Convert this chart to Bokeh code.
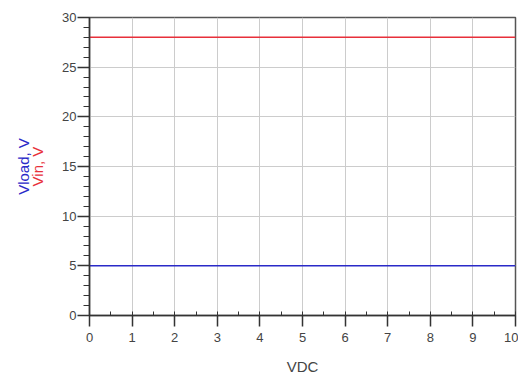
from bokeh.plotting import figure
from bokeh.models import FixedTicker, Range1d, LinearAxis
from bokeh.embed import file_html
from bokeh.resources import INLINE

vdc = [0, 1, 2, 3, 4, 5, 6, 7, 8, 9, 10]
vin = [28, 28, 28, 28, 28, 28, 28, 28, 28, 28, 28]
vload = [5, 5, 5, 5, 5, 5, 5, 5, 5, 5, 5]
x_ticks = [0, 1, 2, 3, 4, 5, 6, 7, 8, 9, 10]
y_ticks = [0, 5, 10, 15, 20, 25, 30]

p = figure(width=518, height=379, output_backend="svg", toolbar_location=None,
           x_range=Range1d(0, 10), y_range=Range1d(0, 30),
           min_border_left=89, min_border_right=3, min_border_top=17, min_border_bottom=64)
p.background_fill_color = "white"
p.border_fill_color = "white"
p.outline_line_color = "#555555"
p.outline_line_width = 1.5

p.line(vdc, vin, line_color="#e8303a", line_width=1.5)
p.line(vdc, vload, line_color="#2a2ac8", line_width=1.5)

font = "Liberation Sans"
xa = p.xaxis[0]
xa.ticker = FixedTicker(ticks=x_ticks, minor_ticks=[i * 0.5 for i in range(21)])
xa.major_tick_out = 11
xa.major_tick_in = 0
xa.minor_tick_in = 4
xa.minor_tick_out = 0
xa.axis_line_color = "#333333"
xa.axis_line_width = 1.5
xa.major_tick_line_color = "#333333"
xa.minor_tick_line_color = "#333333"
xa.major_tick_line_width = 1.5
xa.major_label_text_font = font
xa.major_label_text_font_size = "13px"
xa.major_label_text_color = "#444444"
xa.major_label_standoff = 6
xa.axis_label = "VDC"
xa.axis_label_text_font = font
xa.axis_label_text_font_style = "normal"
xa.axis_label_text_font_size = "15px"
xa.axis_label_text_color = "#444444"
xa.axis_label_standoff = 13

ya = p.yaxis[0]
ya.ticker = FixedTicker(ticks=y_ticks, minor_ticks=list(range(31)))
ya.major_tick_out = 12
ya.major_tick_in = 0
ya.minor_tick_out = 6
ya.minor_tick_in = 0
ya.axis_line_color = "#333333"
ya.axis_line_width = 1.5
ya.major_tick_line_color = "#333333"
ya.minor_tick_line_color = "#333333"
ya.major_tick_line_width = 1.5
ya.major_label_text_font = font
ya.major_label_text_font_size = "13px"
ya.major_label_text_color = "#444444"
ya.major_label_standoff = 1
ya.axis_label = "Vin, V"
ya.axis_label_text_font = font
ya.axis_label_text_font_style = "normal"
ya.axis_label_text_font_size = "15px"
ya.axis_label_text_color = "#e8303a"
ya.axis_label_standoff = 13

ya2 = LinearAxis(axis_label="Vload, V", ticker=FixedTicker(ticks=[]),
                 axis_line_color=None, major_tick_line_color=None,
                 minor_tick_line_color=None, major_label_text_font_size="0px",
                 major_label_standoff=0, major_tick_out=0, minor_tick_out=0,
                 axis_label_standoff=-5, axis_label_text_font=font,
                 axis_label_text_font_style="normal", axis_label_text_font_size="15px",
                 axis_label_text_color="#2a2ac8")
p.add_layout(ya2, "left")

p.xgrid.grid_line_color = "#cccccc"
p.ygrid.grid_line_color = "#cccccc"

open("out.html", "w").write(file_html(p, INLINE))
